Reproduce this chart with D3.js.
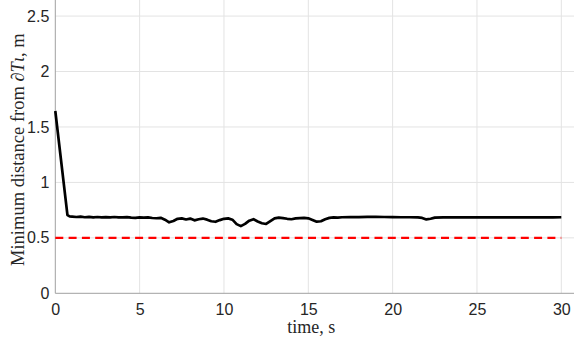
<!DOCTYPE html>
<html>
<head>
<meta charset="utf-8">
<script src="https://cdn.jsdelivr.net/npm/d3@7"></script>
<style>
  html, body { margin: 0; padding: 0; background: #fff; }
  svg { display: block; }
</style>
</head>
<body>
<svg id="chart" width="574" height="341"></svg>
<script>
// Minimum distance from the boundary over time (s, m)
const timeS = [
  0, 0.72, 0.85, 1.0, 1.25, 1.5, 1.75, 2.0, 2.25, 2.5, 2.75, 3.0, 3.25, 3.5, 3.75,
  4.0, 4.25, 4.5, 4.75, 5.0, 5.25, 5.5, 5.75, 6.0, 6.25, 6.5, 6.75, 7.0, 7.25, 7.5,
  7.75, 8.0, 8.25, 8.5, 8.75, 9.0, 9.25, 9.5, 9.75, 10.0, 10.25, 10.5, 10.75, 11.0,
  11.25, 11.5, 11.75, 12.0, 12.25, 12.5, 12.75, 13.0, 13.25, 13.5, 13.75, 14.0,
  14.25, 14.5, 14.75, 15.0, 15.25, 15.5, 15.75, 16.0, 16.25, 16.5, 16.75, 17.0,
  17.5, 18.0, 18.5, 19.0, 19.5, 20.0, 20.5, 21.0, 21.5, 21.75, 22.0, 22.25, 22.5,
  23.0, 23.5, 24.0, 24.5, 25.0, 25.5, 26.0, 26.5, 27.0, 27.5, 28.0, 28.5, 29.0,
  29.5, 30.0
];
const minDistance = [
  1.644, 0.705, 0.694, 0.692, 0.688, 0.691, 0.686, 0.689, 0.685, 0.688, 0.684, 0.687,
  0.685, 0.688, 0.684, 0.685, 0.687, 0.683, 0.681, 0.684, 0.682, 0.685, 0.679, 0.677,
  0.681, 0.664, 0.640, 0.652, 0.672, 0.676, 0.666, 0.674, 0.658, 0.668, 0.674, 0.664,
  0.650, 0.645, 0.660, 0.672, 0.676, 0.664, 0.624, 0.606, 0.626, 0.655, 0.668, 0.648,
  0.632, 0.625, 0.650, 0.675, 0.682, 0.678, 0.672, 0.668, 0.675, 0.678, 0.680, 0.676,
  0.662, 0.646, 0.650, 0.668, 0.680, 0.684, 0.683, 0.686, 0.688, 0.687, 0.690, 0.689,
  0.688, 0.687, 0.686, 0.686, 0.684, 0.680, 0.666, 0.672, 0.682, 0.685, 0.686, 0.684,
  0.686, 0.685, 0.684, 0.686, 0.685, 0.684, 0.686, 0.684, 0.685, 0.686, 0.684, 0.686
];
// Safety threshold
const thresholdValue = 0.5;
const thresholdSpan = [0, 30];

const xTicks = [0, 5, 10, 15, 20, 25, 30];
const yTicks = [0, 0.5, 1, 1.5, 2, 2.5];
const xDomain = [0, 30.75];
const yDomain = [0, 2.645];

const svg = d3.select("#chart");
const plotLeft = 55.3, plotRight = 574, plotTop = 0, plotBottom = 293.3;
const x30 = 561.3; // pixel position of t = 30 s

const x = d3.scaleLinear().domain(xDomain)
  .range([plotLeft, plotLeft + (x30 - plotLeft) * (xDomain[1] / 30)]);
const y = d3.scaleLinear().domain(yDomain).range([plotBottom, plotTop]);

const gridColor = "#e3e3e3";
const axisColor = "#a0a0a0";
const textColor = "#262626";

// grid lines
const grid = svg.append("g");
grid.selectAll("line.gx").data(xTicks.filter(d => d > 0)).join("line")
  .attr("class", "gx")
  .attr("x1", d => x(d)).attr("x2", d => x(d))
  .attr("y1", plotBottom).attr("y2", plotTop)
  .attr("stroke", gridColor).attr("stroke-width", 1);
grid.selectAll("line.gy").data(yTicks.filter(d => d > 0)).join("line")
  .attr("class", "gy")
  .attr("x1", plotLeft).attr("x2", plotRight)
  .attr("y1", d => y(d)).attr("y2", d => y(d))
  .attr("stroke", gridColor).attr("stroke-width", 1);

// axes
const xAxis = d3.axisBottom(x).tickValues(xTicks).tickSize(0).tickPadding(10)
  .tickFormat(d3.format("d"));
const yAxis = d3.axisLeft(y).tickValues(yTicks).tickSize(0).tickPadding(6)
  .tickFormat(d => String(d));

const gx = svg.append("g").attr("transform", `translate(0,${plotBottom})`).call(xAxis);
const gy = svg.append("g").attr("transform", `translate(${plotLeft},0)`).call(yAxis);
[gx, gy].forEach(g => {
  g.select(".domain").remove();
  g.selectAll("text").attr("fill", textColor)
    .style("font-family", "'Liberation Sans', Arial, sans-serif")
    .style("font-size", "16px");
});

svg.append("line")
  .attr("x1", plotLeft).attr("x2", plotRight).attr("y1", plotBottom).attr("y2", plotBottom)
  .attr("stroke", axisColor).attr("stroke-width", 1);
svg.append("line")
  .attr("x1", plotLeft).attr("x2", plotLeft).attr("y1", plotTop).attr("y2", plotBottom)
  .attr("stroke", axisColor).attr("stroke-width", 1);

// threshold line
svg.append("line")
  .attr("x1", x(thresholdSpan[0])).attr("x2", x(thresholdSpan[1]))
  .attr("y1", y(thresholdValue)).attr("y2", y(thresholdValue))
  .attr("stroke", "#ff0000").attr("stroke-width", 2.2)
  .attr("stroke-dasharray", "8,5.3");

// distance trace
const pts = timeS.map((t, i) => [t, minDistance[i]]);
svg.append("path")
  .datum(pts)
  .attr("fill", "none")
  .attr("stroke", "#000")
  .attr("stroke-width", 2.7)
  .attr("stroke-linejoin", "round")
  .attr("d", d3.line().x(d => x(d[0])).y(d => y(d[1])));

// axis labels
const serif = "'Liberation Serif', 'Times New Roman', serif";
svg.append("text")
  .attr("x", x(15) + 3).attr("y", 333)
  .attr("text-anchor", "middle")
  .attr("fill", textColor)
  .style("font-family", serif).style("font-size", "18px")
  .text("time, s");

const yl = svg.append("text")
  .attr("transform", `translate(24,${(plotTop + plotBottom) / 2 + 3}) rotate(-90)`)
  .attr("text-anchor", "middle")
  .attr("fill", textColor)
  .style("font-family", serif).style("font-size", "18.5px");
yl.append("tspan").text("Minimum distance from ∂");
yl.append("tspan").style("font-style", "italic").text("T");
yl.append("tspan").style("font-style", "italic").text("ι");
yl.append("tspan").text(", m");
</script>
</body>
</html>
